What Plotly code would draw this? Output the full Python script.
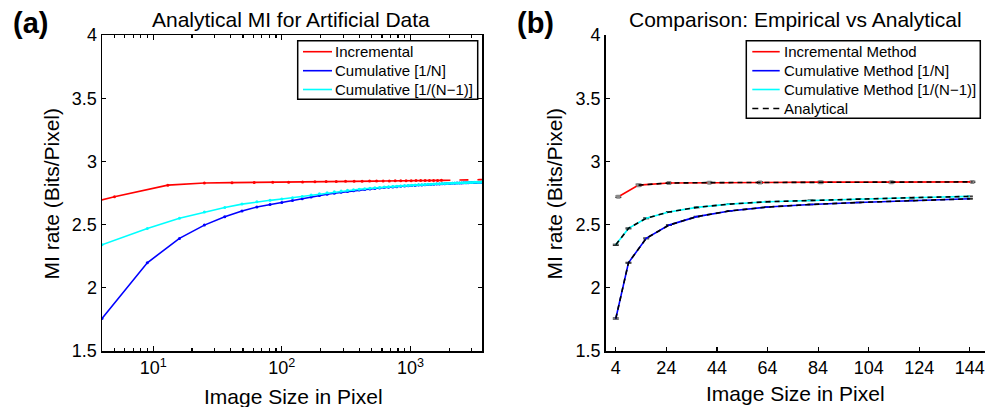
import plotly.graph_objects as go

# ---------------- data ----------------
# Panel (a): analytical, image sizes N = n^2 (n = 2..60)
size_sq = [4, 9, 16, 25, 36, 49, 64, 81, 100, 121, 144, 169, 196, 225, 256, 289, 324, 361, 400,
           441, 484, 529, 576, 625, 676, 729, 784, 841, 900, 961, 1024, 1089, 1156, 1225, 1296,
           1369, 1444, 1521, 1600, 1681, 1764, 1849, 1936, 2025, 2116, 2209, 2304, 2401, 2500,
           2601, 2704, 2809, 2916, 3025, 3136, 3249, 3364, 3481, 3600]
cum_n1 = [2.340, 2.470, 2.550, 2.600, 2.636, 2.662, 2.681, 2.692, 2.702, 2.713, 2.723, 2.734,
          2.744, 2.752, 2.759, 2.765, 2.771, 2.776, 2.780, 2.784, 2.788, 2.791, 2.794, 2.797,
          2.800, 2.802, 2.804, 2.806, 2.808, 2.810, 2.812, 2.813, 2.815, 2.816, 2.818, 2.819,
          2.820, 2.821, 2.823, 2.824, 2.825, 2.825, 2.826, 2.827, 2.828, 2.829, 2.830, 2.830,
          2.831, 2.832, 2.832, 2.833, 2.834, 2.834, 2.835, 2.835, 2.836, 2.836, 2.837]
cum_n = [1.757, 2.198, 2.391, 2.496, 2.563, 2.608, 2.639, 2.659, 2.675, 2.691, 2.704, 2.718,
         2.730, 2.740, 2.748, 2.755, 2.762, 2.768, 2.773, 2.778, 2.782, 2.786, 2.789, 2.793,
         2.796, 2.798, 2.800, 2.803, 2.805, 2.807, 2.809, 2.810, 2.813, 2.814, 2.816, 2.817,
         2.818, 2.819, 2.821, 2.822, 2.823, 2.823, 2.825, 2.826, 2.827, 2.828, 2.829, 2.829,
         2.830, 2.831, 2.831, 2.832, 2.833, 2.833, 2.834, 2.834, 2.835, 2.835, 2.836]
# incremental, sizes n^2 + (n-1)^2
size_inc = [1, 5, 13, 25, 41, 61, 85, 113, 145, 181, 221, 265, 313, 365, 421, 481, 545, 613,
            685, 761, 841, 925, 1013, 1105, 1201, 1301, 1405, 1513, 1625, 1741]
incr = [2.540, 2.720, 2.812, 2.829, 2.832, 2.833, 2.835, 2.836, 2.838, 2.839, 2.840, 2.841,
        2.842, 2.842, 2.843, 2.844, 2.844, 2.845, 2.845, 2.846, 2.846, 2.847, 2.847, 2.848,
        2.848, 2.848, 2.849, 2.849, 2.849, 2.850]
size_inc_ext = [1741, 1861, 1985, 2113, 2245, 2381, 2521, 2665, 2813, 2965, 3121, 3281, 3445, 3613]
incr_ext = [2.850, 2.850, 2.851, 2.851, 2.852, 2.852, 2.853, 2.853, 2.854, 2.854, 2.855, 2.855,
            2.856, 2.856]

# Panel (b): empirical vs analytical
b_size_sq = [4, 9, 16, 25, 36, 49, 64, 81, 100, 121, 144]
b_cum_n_emp = [1.757, 2.198, 2.391, 2.496, 2.563, 2.608, 2.639, 2.659, 2.675, 2.691, 2.704]
b_cum_n1_emp = [2.340, 2.470, 2.550, 2.600, 2.636, 2.662, 2.681, 2.692, 2.702, 2.713, 2.723]
b_cum_n_ana = [1.757, 2.198, 2.391, 2.496, 2.563, 2.608, 2.639, 2.659, 2.675, 2.691, 2.704]
b_cum_n1_ana = [2.340, 2.470, 2.550, 2.600, 2.636, 2.662, 2.681, 2.692, 2.702, 2.713, 2.723]
b_size_inc = [5, 13, 25, 41, 61, 85, 113, 145]
b_incr_emp = [2.720, 2.812, 2.829, 2.832, 2.833, 2.836, 2.836, 2.838]
b_incr_err = [0.006, 0.008, 0.005, 0.004, 0.006, 0.007, 0.006, 0.005]
b_cum_err = [0.005, 0.004, 0.004, 0.003, 0.003, 0.003, 0.003, 0.003, 0.003, 0.003, 0.003]
b_size_inc_ana = [13, 25, 41, 61, 85, 113, 145]
b_incr_ana = [2.812, 2.829, 2.832, 2.833, 2.835, 2.836, 2.838]

y_ticks = [1.5, 2, 2.5, 3, 3.5, 4]
y_ticktext = ["1.5", "2", "2.5", "3", "3.5", "4"]
a_xticks = [10, 100, 1000]
a_xticktext = ["10<sup>1</sup>", "10<sup>2</sup>", "10<sup>3</sup>"]
a_minor = [4, 5, 6, 7, 8, 9, 20, 30, 40, 50, 60, 70, 80, 90, 200, 300, 400, 500, 600, 700,
           800, 900, 2000, 3000]
b_xticks = [4, 24, 44, 64, 84, 104, 124, 144]

legend_a = ["Incremental", "Cumulative [1/N]", "Cumulative [1/(N\u22121)]"]
legend_b = ["Incremental Method", "Cumulative Method [1/N]", "Cumulative Method [1/(N\u22121)]",
            "Analytical"]

RED, BLUE, CYAN = "#ff0000", "#0000ff", "#00ffff"
FONT = "Liberation Sans, Arial, Helvetica, sans-serif"
W, H = 986, 407

fig = go.Figure()

# ---- panel (a) ----
fig.add_trace(go.Scatter(x=size_inc, y=incr, mode="lines+markers", name=legend_a[0],
                         line=dict(color=RED, width=1.6), marker=dict(size=3, color=RED),
                         xaxis="x", yaxis="y"))
fig.add_trace(go.Scatter(x=size_inc_ext, y=incr_ext, mode="lines",
                         line=dict(color=RED, width=1.6, dash="dash"),
                         xaxis="x", yaxis="y"))
fig.add_trace(go.Scatter(x=size_sq, y=cum_n, mode="lines+markers", name=legend_a[1],
                         line=dict(color=BLUE, width=1.6), marker=dict(size=3, color=BLUE),
                         xaxis="x", yaxis="y"))
fig.add_trace(go.Scatter(x=size_sq, y=cum_n1, mode="lines+markers", name=legend_a[2],
                         line=dict(color=CYAN, width=1.6), marker=dict(size=3, color=CYAN),
                         xaxis="x", yaxis="y"))

# ---- panel (b) ----
errstyle = dict(type="data", color="#222222", thickness=1, width=3)
fig.add_trace(go.Scatter(x=b_size_inc, y=b_incr_emp, mode="lines+markers", name=legend_b[0],
                         line=dict(color=RED, width=1.6),
                         marker=dict(size=4, color="#888888", symbol="square"),
                         error_y=dict(array=b_incr_err, **errstyle),
                         xaxis="x2", yaxis="y2"))
fig.add_trace(go.Scatter(x=b_size_sq, y=b_cum_n_emp, mode="lines", name=legend_b[1],
                         line=dict(color=BLUE, width=1.6),
                         error_y=dict(array=b_cum_err, **errstyle),
                         xaxis="x2", yaxis="y2"))
fig.add_trace(go.Scatter(x=b_size_sq, y=b_cum_n1_emp, mode="lines", name=legend_b[2],
                         line=dict(color=CYAN, width=1.6),
                         error_y=dict(array=b_cum_err, **errstyle),
                         xaxis="x2", yaxis="y2"))
fig.add_trace(go.Scatter(x=b_size_inc_ana, y=b_incr_ana, mode="lines", name=legend_b[3],
                         line=dict(color="black", width=1.6, dash="5px,4px"),
                         xaxis="x2", yaxis="y2"))
fig.add_trace(go.Scatter(x=b_size_sq, y=b_cum_n_ana, mode="lines",
                         line=dict(color="black", width=1.6, dash="5px,4px"),
                         xaxis="x2", yaxis="y2"))
fig.add_trace(go.Scatter(x=b_size_sq, y=b_cum_n1_ana, mode="lines",
                         line=dict(color="black", width=1.6, dash="5px,4px"),
                         xaxis="x2", yaxis="y2"))

ydom = [1 - 351 / H, 1 - 35 / H]
axis_common = dict(showline=True, linecolor="black", linewidth=1.5, ticks="inside",
                   tickcolor="black", tickwidth=1.2, showgrid=False, zeroline=False,
                   automargin=False, ticklabeloverflow="allow",
                   tickfont=dict(size=18, color="black", family=FONT))

fig.update_layout(
    width=W, height=H, margin=dict(l=0, r=0, t=0, b=0, pad=0, autoexpand=False),
    paper_bgcolor="white", plot_bgcolor="white",
    font=dict(family=FONT, color="black"),
    showlegend=False,
    xaxis=dict(domain=[102 / W, 482 / W], type="log", range=[0.60206, 3.5563],
               tickvals=a_xticks, ticktext=a_xticktext, ticklen=5, mirror="allticks",
               minor=dict(ticks="inside", ticklen=3, tickvals=a_minor, tickcolor="black"),
               anchor="y", **axis_common),
    yaxis=dict(domain=ydom, range=[1.5, 4], tickvals=y_ticks, ticktext=y_ticktext, ticklen=4,
               mirror="allticks", anchor="x", **axis_common),
    xaxis2=dict(domain=[605.7 / W, 985 / W], range=[0, 150], tickvals=b_xticks, ticklen=4,
                anchor="y2", **axis_common),
    yaxis2=dict(domain=ydom, range=[1.5, 4], tickvals=y_ticks, ticktext=y_ticktext, ticklen=4,
                anchor="x2", **axis_common),
)


def px(x):
    return x / W


def py(y):
    return 1 - y / H


def add_text(text, x, y, size, xanchor="center", angle=0):
    fig.add_annotation(text=text, x=px(x), y=py(y), xref="paper", yref="paper",
                       xanchor=xanchor, yanchor="middle", showarrow=False, textangle=angle,
                       borderpad=0, font=dict(size=size, family=FONT, color="black"))


# titles, panel labels, axis titles
add_text("Analytical MI for Artificial Data", 291, 19, 21)
add_text("Comparison: Empirical vs Analytical", 795, 19, 21)
add_text("<b>(a)</b>", 30, 23, 29)
add_text("<b>(b)</b>", 535, 23, 29)
add_text("Image Size in Pixel", 293, 396, 21)
add_text("Image Size in Pixel", 795, 393, 21)
add_text("MI rate (Bits/Pixel)", 51, 193.5, 21, angle=-90)
add_text("MI rate (Bits/Pixel)", 554, 193.5, 21, angle=-90)


# legends drawn as boxed keys
def draw_legend(box, rows, line_x, text_x, labels, styles):
    fig.add_shape(type="rect", xref="paper", yref="paper", x0=px(box[0]), x1=px(box[1]),
                  y0=py(box[3]), y1=py(box[2]), line=dict(color="black", width=1.5),
                  fillcolor="white", layer="above")
    for yr, lab, st in zip(rows, labels, styles):
        fig.add_shape(type="line", xref="paper", yref="paper", x0=px(line_x[0]), x1=px(line_x[1]),
                      y0=py(yr), y1=py(yr), line=dict(color=st[0], width=1.6, dash=st[1]),
                      layer="above")
        add_text(lab, text_x, yr, 15, xanchor="left")


draw_legend((297.7, 477.7, 40.7, 99.3), [51.7, 70.7, 89.5], (303, 332), 333.5, legend_a,
            [(RED, "solid"), (BLUE, "solid"), (CYAN, "solid")])
draw_legend((746.3, 980.3, 40.7, 118.3), [51.7, 70.7, 89.5, 108.5], (752.3, 779.7), 782.5,
            legend_b, [(RED, "solid"), (BLUE, "solid"), (CYAN, "solid"), ("black", "6px,4.5px")])

fig.write_html("out.html", config={"displayModeBar": False, "staticPlot": True},
               post_script="document.body.style.margin='0';document.body.style.overflow='hidden';")
